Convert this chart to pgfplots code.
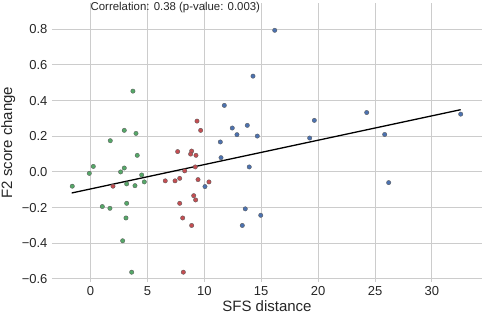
\documentclass[border=0pt]{standalone}
\usepackage{pgfplots}
\pgfplotsset{compat=1.18}
\usepackage{fontspec}
\setmainfont{Liberation Sans}
\definecolor{sgreen}{HTML}{55A868}
\definecolor{sred}{HTML}{C44E52}
\definecolor{sblue}{HTML}{4C72B0}
\definecolor{sgrid}{HTML}{CCCCCC}
\definecolor{stext}{HTML}{262626}
\begin{document}
\begin{tikzpicture}
\begin{axis}[
  name=ax,
  scale only axis,
  width=430pt, height=279pt,
  xmin=-3.38, xmax=34.4,
  ymin=-0.617, ymax=0.947,
  axis line style={draw=none},
  grid=major,
  major grid style={sgrid, line width=1pt},
  tick style={draw=none},
  xtick={0,5,10,15,20,25,30},
  xticklabels={0,5,10,15,20,25,30},
  ytick={-0.6,-0.4,-0.2,0,0.2,0.4,0.6,0.8},
  yticklabels={−0.6,−0.4,−0.2,0.0,0.2,0.4,0.6,0.8},
  ticklabel style={font=\fontsize{13}{15}\selectfont, text=stext},
  xticklabel style={yshift=-1pt},
  yticklabel style={xshift=-1pt},
  xlabel={SFS distance},
  ylabel={F2 score change},
  label style={font=\fontsize{15}{17}\selectfont, text=stext},
  xlabel style={at={(axis description cs:0.5,0)}, anchor=base, inner sep=0pt, yshift=-29.5pt},
  ylabel style={at={(axis description cs:-0.102,0.5)}, anchor=center},
  clip=false,
]
\addplot[only marks, mark=*, mark size=2.2pt, mark options={fill=sgreen, draw=black!65, line width=0.35pt}] coordinates {
(3.73,0.453) (2.97,0.233) (4.00,0.216) (1.74,0.175) (4.11,0.093)
(0.25,0.031) (-0.10,-0.008) (2.97,0.022) (2.65,0.000) (4.50,-0.017)
(-1.60,-0.080) (3.18,-0.067) (3.91,-0.077) (4.73,-0.056) (1.04,-0.194)
(1.71,-0.204) (3.18,-0.176) (3.12,-0.258) (2.83,-0.386) (3.62,-0.562)
};
\addplot[only marks, mark=*, mark size=2.2pt, mark options={fill=sred, draw=black!65, line width=0.35pt}] coordinates {
(1.98,-0.080) (9.36,0.285) (9.68,0.233) (7.66,0.114) (8.89,0.117)
(8.80,0.100) (9.27,0.093) (9.21,0.028) (8.28,0.006) (6.57,-0.050)
(7.43,-0.050) (7.84,-0.036) (9.45,-0.043) (10.41,-0.056) (9.07,-0.133)
(9.24,-0.157) (7.84,-0.176) (8.10,-0.258) (8.89,-0.300) (8.16,-0.562)
};
\addplot[only marks, mark=*, mark size=2.2pt, mark options={fill=sblue, draw=black!65, line width=0.35pt}] coordinates {
(10.06,-0.082) (13.60,-0.207) (14.96,-0.243) (13.34,-0.300) (11.76,0.373)
(12.46,0.246) (13.78,0.261) (12.87,0.209) (14.66,0.201) (11.41,0.168)
(11.47,0.080) (13.95,0.028) (16.19,0.794) (14.28,0.537) (19.67,0.289)
(19.26,0.190) (24.27,0.333) (25.85,0.210) (32.53,0.324) (26.20,-0.060)
};
\addplot[black, line width=1.3pt] coordinates {(-1.65,-0.118) (32.53,0.349)};
\node[anchor=west, inner sep=0pt, font=\fontsize{11.4}{13}\selectfont, text=stext] at (axis cs:0,0.919) {Correlation: 0.38 (p-value: 0.003)};
\end{axis}
\pgfresetboundingbox
\useasboundingbox ([xshift=-52pt,yshift=-32pt]ax.south west) rectangle ([yshift=3pt]ax.north east);
\end{tikzpicture}
\end{document}
